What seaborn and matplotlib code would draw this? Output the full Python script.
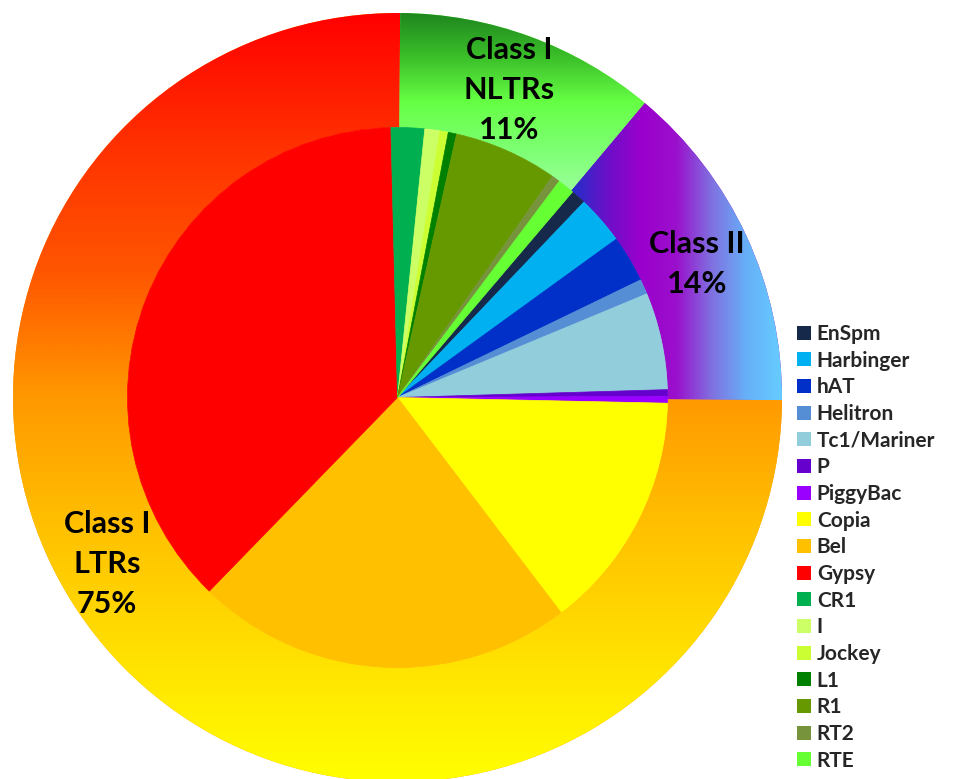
import numpy as np
import matplotlib
matplotlib.use("Agg")
import matplotlib.pyplot as plt
from matplotlib.patches import Patch
import seaborn as sns

# Transposable element families (inner pie), in legend order
families = ["EnSpm", "Harbinger", "hAT", "Helitron", "Tc1/Mariner", "P", "PiggyBac",
            "Copia", "Bel", "Gypsy",
            "CR1", "I", "Jockey", "L1", "R1", "RT2", "RTE"]
family_share = [0.9, 2.9, 2.8, 0.9, 5.8, 0.4, 0.4,
                14.3, 22.6, 37.3,
                2.0, 0.9, 0.5, 0.5, 6.2, 0.5, 1.0]
family_colors = ["#16294A", "#00B0F0", "#0030C8", "#558ED5", "#92CDDC", "#6600CC", "#9900FF",
                 "#FFFF00", "#FFC000", "#FF0000",
                 "#00B050", "#CCFF66", "#CCFF33", "#008000", "#669900", "#77933C", "#66FF33"]

# Element classes (outer ring)
class_names = ["Class II", "Class I\nLTRs", "Class I\nNLTRs"]
class_share = [14, 75, 11]
class_gradients = [
    ["#2030C8", "#6A10C8", "#9B00CC", "#9A10CC", "#8070E0", "#66B0F8", "#66CCFF"],
    ["#FF0000", "#FF3000", "#FF5500", "#FF9900", "#FFC000", "#FFE000", "#FFFF00"],
    ["#1E861E", "#3CC02A", "#66FF44", "#7CFF70", "#99FF99"],
]
class_gradient_dir = ["horizontal", "vertical", "vertical"]

sns.set_theme(style="white")
plt.rcParams["font.family"] = ["Lato", "DejaVu Sans"]

W, H = 979, 779
fig = plt.figure(figsize=(W / 100, H / 100), dpi=100)
ax = fig.add_axes([0, 0, 1, 1])

center = (397.5, H - 397.5)
r_outer, r_inner = 384.5, 270.0


def gradient_fill(ax, wedge, colors, direction):
    """Paint a wedge with a linear colour ramp clipped to its outline."""
    (x0, y0), (x1, y1) = wedge.get_path().get_extents().get_points()
    cmap = sns.blend_palette(colors, as_cmap=True)
    ramp = np.linspace(0, 1, 512)
    img = ramp[np.newaxis, :] if direction == "horizontal" else ramp[:, np.newaxis]
    im = ax.imshow(img, cmap=cmap, extent=(x0, x1, y0, y1), origin="upper",
                   aspect="auto", interpolation="bilinear",
                   zorder=wedge.get_zorder() + 0.1)
    im.set_clip_path(wedge)


# outer ring
ring, _ = ax.pie(class_share, radius=r_outer, center=center, startangle=50,
                 counterclock=False,
                 colors=[g[len(g) // 2] for g in class_gradients],
                 wedgeprops=dict(width=r_outer - r_inner, linewidth=0))
for w, cols, d in zip(ring, class_gradients, class_gradient_dir):
    gradient_fill(ax, w, cols, d)

# inner pie
inner, _ = ax.pie(family_share, radius=r_inner, center=center, startangle=49.6,
                  counterclock=False, colors=family_colors,
                  wedgeprops=dict(linewidth=0.5))
for w in inner:
    w.set_edgecolor(w.get_facecolor())
    w.set_zorder(3)

# class labels
label_pos = {"Class I\nNLTRs": (509, H - 90),
             "Class II": (697, H - 264),
             "Class I\nLTRs": (107, H - 564)}
for name, share in zip(class_names, class_share):
    x, y = label_pos[name]
    ax.text(x, y, f"{name}\n{share}%", ha="center", va="center",
            fontsize=22, fontweight="bold", color="black",
            linespacing=1.53, zorder=5)

ax.set_xlim(0, W)
ax.set_ylim(0, H)
ax.set_aspect("equal")
ax.axis("off")

handles = [Patch(facecolor=c, edgecolor="none") for c in family_colors]
fig.legend(handles, families, loc="upper left",
           bbox_to_anchor=(797 / W, 1 - 324 / H), frameon=False,
           prop=dict(family=["Lato", "DejaVu Sans"], weight="bold", size=15),
           handlelength=0.65, handleheight=0.65, handletextpad=0.3,
           labelspacing=0.32, borderpad=0, borderaxespad=0)

fig.savefig("out.png", dpi=100)
